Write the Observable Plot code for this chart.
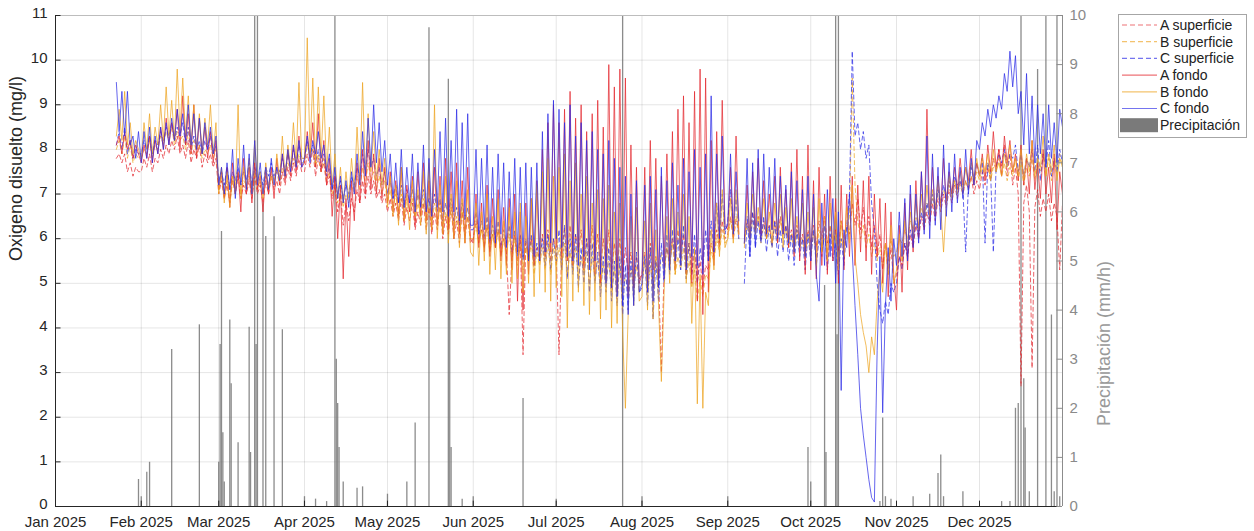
<!DOCTYPE html>
<html><head><meta charset="utf-8">
<script src="https://cdn.jsdelivr.net/npm/d3@7"></script>
<script src="https://cdn.jsdelivr.net/npm/@observablehq/plot@0.6"></script>
<style>
body{margin:0;background:#fff;font-family:"Liberation Sans",Arial,Helvetica,sans-serif;}
#wrap{position:relative;width:1254px;height:531px;overflow:hidden;}
#legend{position:absolute;left:1118px;top:14px;}
</style></head><body>
<div id="wrap"><div id="chart"></div><svg id="legend" width="132" height="125"></svg></div>
<script>
// ---------------- DATA ----------------
// Daily readings (alternating night low / afternoon high), one sub-array per month.
// Jan sub-array starts on Jan 23; all others start on the 1st of the month.
const A_superficie = [
 [7.8,7.9,7.7,7.9,7.5,7.7,7.4,7.6,7.5],
 [7.5,7.8,7.6,7.9,7.5,7.8,7.7,8.0,7.8,8.1,7.9,8.2,8.0,8.3,7.9,8.1,7.8,8.2,7.7,8.0,7.8,8.1,7.6,7.9,7.7,7.9,7.6,7.8],
 [7.0,7.3,6.9,7.2,6.8,7.3,7.0,7.4,6.9,7.2,7.0,7.3,6.9,7.4,7.0,7.2,6.8,7.3,7.0,7.4,7.1,7.3,7.0,7.5,7.2,7.6,7.3,7.7,7.4,7.8,7.5],
 [7.5,7.9,7.6,8.0,7.4,7.8,7.5,7.7,7.2,7.4,6.9,7.2,6.6,7.0,6.3,6.8,6.4,6.9,6.6,7.1,6.8,7.3,6.9,7.4,7.0,7.3,6.9,7.1,6.8,7.0],
 [6.6,6.9,6.5,6.8,6.4,6.9,6.3,6.7,6.4,6.8,6.2,6.6,6.3,6.8,6.2,6.7,6.1,6.6,6.2,6.8,6.0,6.5,6.1,6.7,6.0,6.4,5.9,6.6,6.0,6.5,5.9],
 [6.0,6.4,5.9,6.2,5.8,6.3,5.7,6.1,5.8,6.2,5.6,6.0,5.7,4.3,5.6,6.1,5.5,6.0,3.4,5.9,5.6,6.0,5.4,5.8,5.5,6.1,5.6,6.2,5.5,6.0],
 [5.7,3.4,5.8,6.2,5.6,6.3,5.5,6.1,5.7,6.2,5.4,6.0,5.6,6.3,5.5,6.1,5.3,6.0,5.4,6.2,5.2,5.9,5.3,6.0,5.1,5.8,5.2,5.7,5.0,5.6,5.1],
 [5.2,5.7,5.0,5.9,4.9,5.6,5.1,3.0,5.3,5.8,5.4,6.0,5.5,6.2,5.6,6.1,5.4,5.9,5.2,5.7,5.0,5.5,4.9,5.4,5.3,5.9,5.6,6.2,5.8,6.4,6.0],
 [6.1,6.5,6.0,6.4,6.2,null,6.0,6.4,6.1,6.6,6.2,6.5,6.0,6.4,6.1,6.3,5.9,6.4,6.0,6.5,6.1,6.3,5.9,6.2,5.8,6.3,5.9,6.1,5.7,6.2],
 [5.9,6.3,5.8,6.4,6.0,6.5,5.9,6.3,5.8,6.2,5.7,6.4,5.9,6.3,6.1,6.8,6.3,6.9,6.2,6.7,6.0,6.5,5.8,6.3,5.6,6.1,5.3,5.9,5.2,5.8,5.0],
 [5.2,5.6,5.4,5.9,5.6,6.1,5.8,6.3,6.0,6.5,6.2,6.6,6.3,6.8,6.4,6.9,6.6,7.0,6.7,7.1,6.8,7.2,6.9,7.3,7.0,7.3,7.1,7.4,7.0,7.3],
 [7.1,7.5,7.2,7.6,7.3,7.8,7.5,8.0,7.6,8.1,7.4,7.9,7.2,7.6,7.0,2.7,6.8,7.2,6.6,3.1,6.7,7.1,6.5,6.9,6.6,7.0,6.4,6.8,6.5,5.3,6.8]
];
const B_superficie = [
 [8.0,8.2,7.9,8.3,7.8,8.1,7.7,7.9,7.8],
 [7.8,8.0,7.9,8.2,7.8,8.1,8.0,8.3,8.1,8.4,8.2,8.5,8.1,8.4,8.2,8.3,8.0,8.4,7.9,8.2,7.9,8.1,7.8,8.0,7.9,8.1,7.8,8.0],
 [7.1,7.4,7.0,7.3,6.9,7.4,7.1,7.5,7.0,7.3,7.2,7.4,7.0,7.5,7.1,7.3,7.0,7.4,7.2,7.5,7.3,7.5,7.2,7.6,7.4,7.7,7.5,7.8,7.6,7.9,7.7],
 [7.7,8.1,7.8,8.0,7.6,7.9,7.5,7.8,7.3,7.5,7.0,7.3,6.8,7.1,6.7,7.0,6.8,7.2,7.0,7.4,7.1,7.6,7.2,7.7,7.3,7.5,7.1,7.4,7.0,7.3],
 [6.8,7.1,6.7,7.0,6.6,7.0,6.5,6.9,6.6,6.9,6.4,6.8,6.5,6.9,6.4,6.7,6.3,6.8,6.4,6.7,6.2,6.6,6.3,6.7,6.2,6.5,6.1,6.6,6.2,6.5,6.0],
 [6.0,6.3,5.9,6.2,5.8,6.3,5.7,6.1,5.8,6.2,5.6,6.0,5.7,6.1,5.5,6.0,5.4,5.9,5.3,5.8,5.5,5.9,5.2,5.7,5.4,5.8,5.3,5.9,5.2,5.8],
 [5.4,5.8,5.3,5.9,5.2,5.7,5.3,5.8,5.1,5.6,5.2,5.7,5.0,5.6,5.1,5.5,4.9,5.4,5.0,5.5,4.8,5.3,4.9,5.4,4.7,5.2,4.8,5.3,4.9,5.4,5.0],
 [5.0,5.5,4.8,5.4,4.9,5.6,5.1,5.7,5.3,5.8,5.4,5.9,5.2,5.6,5.3,5.8,5.1,5.5,4.9,5.3,4.6,5.1,4.7,5.2,5.1,5.7,5.5,6.0,5.7,6.2,5.9],
 [6.0,6.4,6.1,6.5,6.0,null,5.9,6.3,6.0,6.4,6.1,6.5,5.9,6.3,6.0,6.2,5.8,6.3,5.9,6.4,6.0,6.2,5.8,6.1,5.7,6.2,5.8,6.0,5.6,6.1],
 [5.7,6.1,5.6,6.2,5.8,6.0,5.7,6.3,5.9,6.1,5.6,6.0,5.8,6.2,6.5,9.6,7.2,6.4,6.0,6.3,5.8,6.1,5.6,5.9,5.5,5.8,5.4,5.9,5.5,6.0,5.6],
 [5.7,6.0,5.9,6.2,6.0,6.4,6.2,6.5,6.3,6.7,6.5,6.8,6.6,6.9,6.7,7.0,6.8,7.1,6.9,7.2,7.0,7.3,7.1,7.2,7.0,7.3,7.1,7.4,7.2,7.5],
 [7.3,7.6,7.4,7.7,7.3,7.6,7.5,7.8,7.4,7.7,7.3,7.6,7.4,7.8,7.3,7.7,7.2,7.6,7.4,7.8,7.3,7.7,7.5,7.9,7.4,7.8,7.3,7.7,7.4,7.9,7.6]
];
const C_superficie = [
 [8.1,8.4,8.0,8.5,7.9,8.2,7.8,8.0,7.9],
 [7.9,8.2,8.0,8.3,7.9,8.2,8.1,8.4,8.2,8.5,8.3,8.6,8.2,8.5,8.3,8.6,8.1,8.5,8.0,8.3,8.0,8.2,7.9,8.2,8.0,8.3,7.9,8.1],
 [7.3,7.5,7.2,7.6,7.1,7.5,7.3,7.6,7.2,7.5,7.3,7.7,7.2,7.6,7.3,7.5,7.2,7.6,7.4,7.7,7.4,7.6,7.5,7.8,7.5,7.9,7.6,8.0,7.7,8.1,7.8],
 [7.8,8.2,7.9,8.1,7.7,8.0,7.6,7.9,7.4,7.6,7.1,7.4,7.0,7.3,6.9,7.2,7.0,7.4,7.2,7.6,7.4,7.9,7.5,8.0,7.6,7.8,7.4,7.6,7.2,7.5],
 [7.0,7.3,6.9,7.2,6.8,7.2,6.7,7.1,6.8,7.1,6.6,7.0,6.7,7.1,6.6,6.9,6.5,7.0,6.6,6.9,6.4,6.8,6.5,6.9,6.4,6.7,6.3,6.8,6.4,6.7,6.2],
 [6.2,6.6,6.1,6.4,6.0,6.5,5.9,6.3,6.0,6.4,5.8,6.2,5.9,6.3,5.7,6.2,5.6,6.1,5.5,6.0,5.6,6.1,5.4,5.9,5.5,6.0,5.4,6.1,5.3,6.0],
 [5.5,6.2,5.3,6.3,5.1,6.0,5.2,6.1,4.9,5.8,5.0,6.0,4.8,5.9,5.0,5.7,4.7,5.6,4.8,5.8,4.6,5.5,4.5,5.6,4.3,5.4,4.4,5.5,4.6,5.7,4.8],
 [4.9,5.6,4.5,5.8,4.2,5.5,4.6,5.9,5.0,6.1,5.2,6.2,5.4,6.0,5.3,6.3,5.1,5.9,5.2,6.1,5.0,5.8,5.3,6.2,5.5,6.4,5.7,6.8,5.9,7.0,6.1],
 [6.4,7.1,6.2,6.9,6.0,null,5.0,6.5,5.6,6.6,5.8,6.4,5.9,6.5,5.7,6.3,5.8,6.4,5.6,6.2,5.7,6.3,5.5,6.1,5.4,6.2,5.6,6.0,5.3,6.1],
 [5.5,6.2,5.4,6.0,5.6,6.3,5.3,6.1,5.5,5.9,5.2,6.0,5.4,6.3,7.0,10.2,8.3,8.6,8.0,8.4,7.8,8.1,6.8,6.2,5.0,4.4,4.1,4.6,4.3,5.0,4.8],
 [5.0,5.6,5.3,5.9,5.6,6.2,5.9,6.4,6.1,6.6,6.3,6.8,6.4,7.0,6.6,7.1,6.8,7.2,6.9,7.3,7.0,7.4,7.2,7.3,7.1,5.7,7.2,7.6,7.3,7.7],
 [7.4,7.8,5.9,7.7,7.5,5.7,7.6,7.9,7.7,8.0,7.6,7.9,7.8,8.1,7.5,7.9,7.4,7.8,7.6,8.0,7.5,8.1,7.3,7.9,7.6,8.2,7.4,7.8,7.5,8.0,7.7]
];
const A_fondo = [
 [8.1,8.3,7.9,8.4,8.0,8.2,7.8,8.1,7.9],
 [7.7,8.1,7.8,8.3,7.7,8.2,7.9,8.5,8.0,8.7,8.1,8.6,8.2,8.9,8.0,9.2,8.1,8.8,7.9,9.0,7.8,8.7,7.9,8.5,7.8,8.4,7.7,8.2],
 [7.1,7.5,6.9,7.6,6.7,7.7,7.0,7.5,6.6,7.8,7.0,7.6,6.8,7.7,7.1,7.4,6.6,7.5,7.0,7.6,6.9,7.8,7.2,7.9,7.3,8.0,7.4,8.1,7.5,8.3,7.6],
 [7.7,8.4,7.8,8.6,7.6,8.8,7.5,8.2,7.2,7.8,6.5,7.4,6.0,7.2,5.1,6.9,5.6,7.3,6.4,7.7,6.8,8.0,7.0,8.2,7.1,7.9,7.0,7.8,6.9,7.6],
 [6.8,7.5,6.6,7.3,6.5,7.6,6.4,7.2,6.6,7.4,6.3,7.5,6.5,7.7,6.4,7.3,6.2,7.6,6.3,7.4,6.1,7.8,6.2,7.5,6.0,7.7,6.1,7.3,5.9,7.6,6.0],
 [5.9,7.0,5.8,6.8,5.7,7.2,5.6,6.9,5.8,7.1,5.5,6.7,5.4,6.9,5.3,7.0,4.6,6.6,4.4,6.8,5.2,6.9,5.4,7.3,5.5,8.0,5.6,8.6,5.7,9.0],
 [5.8,8.6,5.6,8.9,5.5,9.3,5.4,8.7,5.7,9.0,5.3,8.4,5.5,8.8,5.2,9.1,5.0,8.5,5.1,9.9,4.9,9.4,4.8,9.8,5.0,9.6,4.7,8.1,4.9,7.6,5.0],
 [5.2,7.6,5.0,8.2,5.3,7.8,5.1,7.4,5.4,7.9,5.5,8.4,5.3,8.9,5.6,9.2,5.2,8.6,5.0,9.3,4.6,9.8,4.3,9.6,4.8,8.2,5.4,8.4,5.9,9.1,6.3],
 [6.2,7.6,6.0,8.3,6.1,null,5.9,7.2,6.0,7.5,6.2,7.8,6.1,7.3,6.0,7.0,6.2,7.4,5.9,7.6,6.1,7.1,5.8,7.7,5.6,8.0,5.5,7.4,5.2,8.1],
 [5.3,7.3,5.1,7.6,5.4,7.0,5.2,7.4,5.5,6.9,5.0,7.2,5.3,7.0,5.6,7.4,5.4,7.2,5.7,7.3,5.5,7.4,5.2,7.0,5.6,6.9,5.0,6.8,4.7,6.6,5.2],
 [4.4,6.3,4.8,6.8,5.3,7.0,5.7,7.3,6.0,7.5,6.2,8.9,6.4,7.6,6.5,7.4,6.7,7.8,6.8,7.5,7.0,7.6,7.1,7.8,7.2,7.6,7.3,8.0,7.2,7.7],
 [7.4,7.9,7.3,8.1,7.5,8.4,7.6,8.0,7.4,8.3,7.7,8.2,7.5,7.9,7.3,8.1,7.2,7.8,7.0,8.2,7.1,7.7,6.9,8.0,7.0,7.6,6.8,7.9,6.2,7.5,7.0]
];
const B_fondo = [
 [8.3,8.9,8.2,9.3,8.1,8.6,7.9,8.2,8.0],
 [7.8,8.6,8.0,8.8,7.9,8.5,8.1,9.0,8.2,9.4,8.3,9.1,8.2,9.8,8.4,9.6,8.3,9.2,8.1,9.0,8.0,8.8,7.9,8.7,8.1,9.0,7.9,8.6],
 [7.0,7.6,6.8,7.5,6.7,7.4,7.0,9.0,6.9,7.6,7.1,7.8,7.0,8.2,7.2,7.5,6.9,7.7,7.1,7.4,7.2,7.9,7.3,8.3,7.4,8.1,7.6,8.6,7.7,9.5,7.8],
 [7.8,10.5,7.9,9.6,7.7,9.4,7.8,9.2,7.5,8.5,7.2,7.9,6.9,7.6,6.8,7.5,6.9,7.8,7.1,8.5,7.3,9.5,7.4,8.8,7.5,8.4,7.3,8.0,7.2,7.8],
 [6.7,7.4,6.5,7.2,6.3,7.6,6.4,7.0,6.2,7.3,6.5,7.1,6.3,7.5,6.1,7.7,6.2,9.0,6.0,7.2,6.1,7.4,5.9,7.0,6.0,7.3,5.8,6.9,5.9,7.1,5.7],
 [5.6,6.8,5.4,6.6,5.5,7.0,5.2,6.5,5.3,6.9,5.1,6.4,5.2,6.7,5.0,6.6,5.1,6.8,4.8,6.5,5.0,6.9,4.7,7.2,5.0,7.5,4.8,7.8,4.6,7.4],
 [4.9,7.6,4.7,7.9,4.0,7.3,4.6,7.7,4.8,7.0,4.5,7.4,4.3,6.8,4.6,7.1,4.2,6.9,4.4,7.2,4.0,6.6,4.1,6.8,3.9,2.2,4.3,6.5,4.5,6.7,4.6],
 [4.7,6.4,4.4,6.8,4.2,6.2,4.5,2.8,4.8,6.5,5.0,6.9,5.2,6.6,5.4,7.0,5.0,6.5,4.1,5.8,2.3,5.2,2.2,4.8,4.5,6.2,5.3,6.8,5.6,7.1,5.8],
 [6.0,6.9,5.9,7.1,6.1,null,5.8,6.8,6.0,7.0,6.1,6.7,6.2,6.9,6.0,6.6,5.9,6.8,6.1,7.0,5.8,6.7,5.9,6.9,5.7,6.5,5.8,6.8,5.6,6.6],
 [5.6,6.7,5.4,6.9,5.7,6.5,5.5,6.8,5.8,6.6,5.3,6.4,5.6,6.7,5.9,7.2,5.6,5.0,4.3,3.9,3.6,3.0,3.8,3.4,4.6,5.3,4.8,5.9,5.2,6.3,5.0],
 [5.3,6.1,5.5,6.4,5.8,6.6,6.0,6.9,6.2,7.0,6.3,7.2,6.5,7.1,6.6,7.3,6.7,5.7,6.8,7.4,6.9,7.3,7.0,7.5,7.1,7.6,7.2,7.7,7.3,7.8],
 [7.4,7.8,7.5,7.9,7.3,8.0,7.5,7.7,7.4,7.9,7.6,8.1,7.5,7.8,7.4,8.0,7.3,7.9,7.5,8.2,7.4,7.8,7.6,8.3,7.4,7.9,7.5,8.1,7.3,7.8,7.6]
];
const C_fondo = [
 [9.5,8.4,9.3,8.3,9.3,8.1,8.3,7.8,8.4],
 [7.7,8.4,7.8,8.5,7.7,8.3,7.9,8.5,8.0,8.6,8.1,8.7,8.2,8.9,8.3,8.8,8.2,9.0,8.1,8.8,8.0,8.7,7.9,8.6,8.0,8.5,7.9,8.3],
 [7.2,7.6,7.0,7.7,7.1,8.0,6.9,7.8,7.2,8.1,7.1,7.9,7.0,8.2,7.2,7.7,7.0,7.6,7.1,7.8,7.2,7.6,7.3,7.9,7.4,8.0,7.5,8.1,7.6,8.2,7.6],
 [7.8,8.3,7.7,8.2,7.9,8.4,7.8,8.1,7.5,7.9,7.1,7.6,6.9,7.4,6.8,7.3,6.7,7.5,7.0,7.9,7.2,8.4,7.4,8.7,7.6,9.0,7.7,8.6,7.5,8.2],
 [7.2,7.9,6.9,7.7,6.8,8.0,6.7,7.6,6.8,7.9,6.6,7.7,6.7,8.1,6.6,7.8,6.5,8.0,6.7,8.4,6.6,8.7,6.5,8.2,6.6,8.9,6.4,8.6,6.5,8.8,6.3],
 [6.3,8.0,6.1,7.8,6.2,8.1,6.0,7.6,5.9,7.9,6.1,7.7,5.8,7.5,6.0,7.8,5.7,7.6,5.6,7.7,5.5,7.6,5.6,7.7,5.5,8.4,5.7,8.8,5.9,9.1],
 [6.0,8.9,5.8,8.6,5.6,9.0,5.5,8.3,5.4,8.6,5.6,8.2,5.3,8.4,5.5,8.0,5.2,7.9,5.0,8.2,4.9,7.8,4.7,7.6,4.5,7.4,4.3,7.0,4.5,7.3,4.8],
 [5.0,7.2,4.8,7.4,4.6,7.1,4.9,7.6,5.1,7.3,5.3,7.7,5.5,7.2,5.4,7.8,5.3,7.5,5.6,8.0,5.4,7.6,5.2,7.9,5.5,9.2,5.7,7.9,6.0,8.3,6.2],
 [6.3,7.9,6.1,7.5,6.4,null,5.9,7.8,5.6,7.7,5.8,8.0,6.0,7.9,6.1,7.6,6.2,7.8,6.0,7.4,6.1,7.2,5.9,7.5,5.7,7.3,5.8,7.1,5.6,7.4],
 [5.5,7.0,5.2,4.6,6.8,5.4,7.1,5.6,6.9,5.0,6.6,2.6,6.2,5.8,7.0,5.7,4.5,3.4,2.2,1.6,1.1,0.6,0.2,0.1,3.5,5.6,2.1,4.5,5.8,4.6,6.0],
 [5.4,6.6,5.6,6.9,5.5,7.2,5.8,7.0,5.9,7.5,6.1,8.3,6.0,7.9,6.3,7.6,6.2,8.1,6.5,7.7,6.6,7.9,6.8,7.6,6.9,8.0,7.0,7.8,7.2,8.2],
 [8.0,8.6,8.3,8.9,8.5,9.0,8.7,9.2,8.9,9.7,9.3,10.2,9.4,10.1,8.8,9.3,8.1,9.7,7.9,9.2,7.7,9.0,7.9,8.8,7.6,9.0,7.8,8.6,7.7,8.9,8.5]
];

// Precipitation (mm/h), right axis
const precipDates = ["2025-01-31","2025-02-01","2025-02-03","2025-02-04","2025-02-12","2025-02-22",
 "2025-03-01T00:00Z","2025-03-01T12:00Z","2025-03-02T00:00Z","2025-03-02T12:00Z","2025-03-03","2025-03-05T00:00Z","2025-03-05T12:00Z",
 "2025-03-08","2025-03-12T00:00Z","2025-03-12T12:00Z","2025-03-14T00:00Z","2025-03-14T12:00Z","2025-03-15","2025-03-17","2025-03-18",
 "2025-03-21","2025-03-24","2025-04-01","2025-04-05","2025-04-09","2025-04-12T00:00Z","2025-04-12T12:00Z","2025-04-13T00:00Z",
 "2025-04-13T12:00Z","2025-04-15","2025-04-20","2025-04-22","2025-05-01","2025-05-08","2025-05-11","2025-05-16","2025-05-23T00:00Z",
 "2025-05-23T12:00Z","2025-05-24","2025-05-28","2025-06-01","2025-06-19","2025-07-01","2025-07-25","2025-08-01","2025-09-01",
 "2025-09-30","2025-10-01","2025-10-06T00:00Z","2025-10-06T12:00Z","2025-10-10","2025-10-10T12:00Z","2025-10-11","2025-10-26",
 "2025-10-27","2025-10-28","2025-10-30","2025-11-07","2025-11-13","2025-11-16","2025-11-17","2025-11-18","2025-11-25","2025-12-09",
 "2025-12-12","2025-12-14","2025-12-15","2025-12-16","2025-12-17T00:00Z","2025-12-17T12:00Z","2025-12-19","2025-12-22","2025-12-25",
 "2025-12-27","2025-12-28","2025-12-29","2025-12-30"];
const precipValues = [0.55,0.2,0.7,0.9,3.2,3.7,
 0.9,3.3,5.6,1.5,0.5,3.8,2.5,
 1.3,3.65,1.1,12,3.3,12,6.2,5.5,
 5.9,3.6,0.2,0.15,0.1,12,3.0,2.1,
 1.2,0.5,0.37,0.4,0.25,0.5,1.7,9.75,8.7,
 4.5,1.2,0.15,0.2,2.2,0.15,12,0.2,0.2,
 1.2,0.5,4.5,1.1,12,3.5,12,0.1,
 1.8,0.2,0.15,0.2,0.25,0.67,1.05,0.2,0.3,0.1,
 0.1,2.0,2.1,12,2.6,1.6,0.3,8.9,12,
 3.9,0.3,12,0.2];

const seriesNames = ["A superficie","B superficie","C superficie","A fondo","B fondo","C fondo"];
const seriesColors = ["#e3262d","#eda320","#2a2ae6","#e3262d","#eda320","#2a2ae6"];
const seriesDashed = [true,true,true,false,false,false];
const seriesValues = [A_superficie,B_superficie,C_superficie,A_fondo,B_fondo,C_fondo];

const monthTickDates = ["2025-01-01","2025-02-01","2025-03-01","2025-04-01","2025-05-01","2025-06-01",
 "2025-07-01","2025-08-01","2025-09-01","2025-10-01","2025-11-01","2025-12-01"];
const monthTickLabels = ["Jan 2025","Feb 2025","Mar 2025","Apr 2025","May 2025","Jun 2025",
 "Jul 2025","Aug 2025","Sep 2025","Oct 2025","Nov 2025","Dec 2025"];
const oxygenTicks = [0,1,2,3,4,5,6,7,8,9,10,11];
const precipTicks = [0,1,2,3,4,5,6,7,8,9,10];

// ---------------- BUILD ----------------
const DAY = 864e5;
const monthStarts = [Date.UTC(2025,0,23)].concat(d3.range(1,12).map(m => Date.UTC(2025,m,1)));
const monthLens = [9,28,31,30,31,30,31,31,30,31,30,31];
function toRows(months, name){
  const rows = [];
  months.forEach((arr, m) => {
    arr.slice(0, monthLens[m]).forEach((v, i) => rows.push({date: new Date(monthStarts[m] + i*DAY), v, name}));
  });
  return rows;
}
const X0 = new Date(Date.UTC(2025,0,1)), X1 = new Date(Date.UTC(2025,11,31));
const P2Y = 11/10; // right axis 0-10 mapped onto left axis 0-11
const precip = precipDates.map((d,i) => ({date: new Date(d), p: precipValues[i]}));
const monthTicks = monthTickDates.map(d => new Date(d));
const tickLen = 2*DAY;

const lineMarks = seriesValues.map((s,k) => Plot.line(toRows(s, seriesNames[k]), {
  x:"date", y:"v", stroke: seriesColors[k], strokeWidth: 1,
  strokeOpacity: 0.72,
  strokeDasharray: seriesDashed[k] ? "4,3" : null, clip:true
}));

const fontFam = '"Liberation Sans", Arial, Helvetica, sans-serif';
const chart = Plot.plot({
  width:1254, height:531, marginLeft:55, marginRight:192, marginTop:15, marginBottom:25,
  x:{type:"utc", domain:[X0,X1]},
  y:{domain:[0,11]},
  style:{fontFamily:fontFam, fontSize:"15px", color:"#262626", background:"#fff"},
  marks:[
    Plot.ruleY(oxygenTicks, {y:d=>d, stroke:"#000", strokeOpacity:0.1}),
    Plot.ruleX(monthTicks, {x:d=>d, stroke:"#000", strokeOpacity:0.1}),
    Plot.ruleX(precip, {x:"date", y1:0, y2:d=>d.p*P2Y, stroke:"#6e6e6e", strokeWidth:1.3, strokeOpacity:0.8, clip:true}),
    ...lineMarks,
    // frame
    Plot.ruleY([11], {stroke:"#bdbdbd", strokeWidth:1}),
    Plot.ruleX([X1], {stroke:"#8c8c8c", strokeWidth:1}),
    Plot.ruleY([0], {stroke:"#262626", strokeWidth:1}),
    Plot.ruleX([X0], {stroke:"#262626", strokeWidth:1}),
    // inward ticks
    Plot.ruleY(oxygenTicks, {y:d=>d, x1:X0, x2:new Date(+X0+tickLen), stroke:"#262626"}),
    Plot.ruleY(precipTicks, {y:d=>d*P2Y, x1:new Date(+X1-tickLen), x2:X1, stroke:"#8c8c8c"}),
    Plot.ruleX(monthTicks, {x:d=>d, y1:0, y2:0.12, stroke:"#262626"}),
    // axes
    Plot.axisX(monthTicks, {tickSize:0, tickPadding:10, fontSize:15, label:null,
      tickFormat:(d)=>monthTickLabels[monthTicks.findIndex(t=>+t===+d)]}),
    Plot.axisY(oxygenTicks, {anchor:"left", tickSize:0, tickPadding:8, fontSize:15, dy:-2, label:null}),
    Plot.axisY(precipTicks.map(v=>v*P2Y), {anchor:"right", tickSize:0, tickPadding:7, fontSize:15, label:null,
      color:"#8a8a8a", tickFormat:d=>String(Math.round(d/P2Y))}),
    Plot.text(["Oxigeno disuelto (mg/l)"], {frameAnchor:"left", dx:-39, rotate:-90, fontSize:18, fill:"#262626"}),
    Plot.text(["Precipitación (mm/h)"], {frameAnchor:"right", dx:42, rotate:-90, fontSize:18, fill:"#999999"})
  ]
});
document.getElementById("chart").appendChild(chart);

// ---------------- LEGEND ----------------
const leg = d3.select("#legend");
leg.append("rect").attr("x",0.5).attr("y",0.5).attr("width",128).attr("height",123)
  .attr("fill","#fff").attr("stroke","#a6a6a6");
const legItems = seriesNames.concat(["Precipitación"]);
legItems.forEach((name,i) => {
  const cy = 11 + i*16.7;
  if (i < 6) {
    leg.append("line").attr("x1",4).attr("x2",39).attr("y1",cy).attr("y2",cy)
      .attr("stroke",seriesColors[i]).attr("stroke-opacity",0.65).attr("stroke-width",1.2)
      .attr("stroke-dasharray", seriesDashed[i] ? "5,3" : null);
  } else {
    leg.append("rect").attr("x",2).attr("y",cy-7).attr("width",38).attr("height",14).attr("fill","#7a7a7a");
  }
  leg.append("text").attr("x",42).attr("y",cy).attr("dy","0.35em")
    .attr("font-family",fontFam).attr("font-size",14).attr("fill","#222").text(name);
});
</script></body></html>
